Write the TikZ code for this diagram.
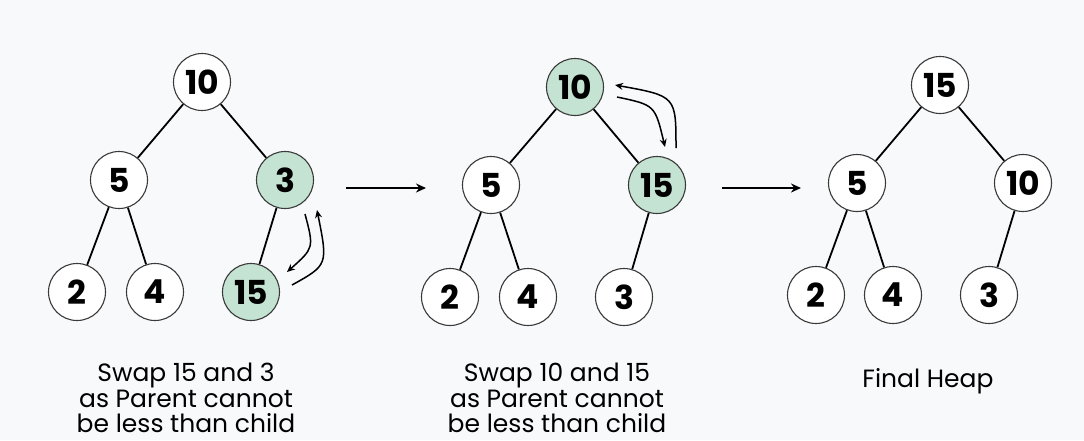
\documentclass[tikz,border=0pt]{standalone}
\usepackage{fontspec}
\setmainfont{Poppins}
\usetikzlibrary{arrows.meta}
\definecolor{bg}{HTML}{F8F9FB}
\definecolor{hl}{HTML}{C5E3D3}
\definecolor{rim}{HTML}{3A3A3A}
\begin{document}
\begin{tikzpicture}[x=1pt,y=-1pt,
  hn/.style={circle,draw=rim,line width=1.1pt,fill=white,minimum size=57pt,inner sep=0pt,
    font=\bfseries\fontsize{33}{33}\selectfont},
  hot/.style={hn,fill=hl},
  edge/.style={line width=1.8pt,black},
  swaparrow/.style={line width=1.5pt,-{Stealth[length=8pt,width=7pt]}},
  steparrow/.style={line width=2.6pt,-{Stealth[length=10pt,width=9pt]}},
  caption/.style={align=center,font=\fontsize{25}{25.5}\selectfont}]
\fill[bg] (0,0) rectangle (1084,440);
\useasboundingbox (0,0) rectangle (1084,440);
% tree 1
\node[hn]  (a1) at (202,82)  {10};
\node[hn]  (a2) at (119,180) {5};
\node[hot] (a3) at (285,180) {3};
\node[hn]  (a4) at (77,292)  {2};
\node[hn]  (a5) at (155,292) {4};
\node[hot] (a6) at (251,292) {15};
\draw[edge] (a1) -- (a2);
\draw[edge] (a1) -- (a3);
\draw[edge] (a2) -- (a4);
\draw[edge] (a2) -- (a5);
\draw[edge] (a3) -- (a6);
\coordinate (s1a) at (305,214);
\coordinate (e1a) at (287,272);
\coordinate (s1b) at (292,285);
\coordinate (e1b) at (317,210);
\draw[swaparrow] (s1a) .. controls (314,248) .. (e1a);
\draw[swaparrow] (s1b) .. controls (328,265) .. (e1b);
% tree 2
\node[hot] (b1) at (575,87)  {10};
\node[hn]  (b2) at (491,185) {5};
\node[hot] (b3) at (657,185) {15};
\node[hn]  (b4) at (450,297) {2};
\node[hn]  (b5) at (528,297) {4};
\node[hn]  (b6) at (624,297) {3};
\draw[edge] (b1) -- (b2);
\draw[edge] (b1) -- (b3);
\draw[edge] (b2) -- (b4);
\draw[edge] (b2) -- (b5);
\draw[edge] (b3) -- (b6);
\coordinate (s2a) at (617,97);
\coordinate (e2a) at (665,147);
\coordinate (s2b) at (676,148);
\coordinate (e2b) at (615,85);
\draw[swaparrow] (s2a) .. controls (655,105) .. (e2a);
\draw[swaparrow] (s2b) .. controls (676,96) .. (e2b);
% tree 3
\node[hn] (c1) at (940,85)  {15};
\node[hn] (c2) at (857,183) {5};
\node[hn] (c3) at (1023,183) {10};
\node[hn] (c4) at (816,295) {2};
\node[hn] (c5) at (893,295) {4};
\node[hn] (c6) at (989,295) {3};
\draw[edge] (c1) -- (c2);
\draw[edge] (c1) -- (c3);
\draw[edge] (c2) -- (c4);
\draw[edge] (c2) -- (c5);
\draw[edge] (c3) -- (c6);
% step arrows
\coordinate (p1s) at (346,188);
\coordinate (p1e) at (426,188);
\coordinate (p2s) at (722,188);
\coordinate (p2e) at (801,188);
\draw[steparrow] (p1s) -- (p1e);
\draw[steparrow] (p2s) -- (p2e);
% captions
\node[caption] (t1) at (186,398) {Swap 15 and 3\\as Parent cannot\\be less than child};
\node[caption] (t2) at (557,398) {Swap 10 and 15\\as Parent cannot\\be less than child};
\node[caption] (t3) at (928,381) {Final Heap};
\end{tikzpicture}
\end{document}
